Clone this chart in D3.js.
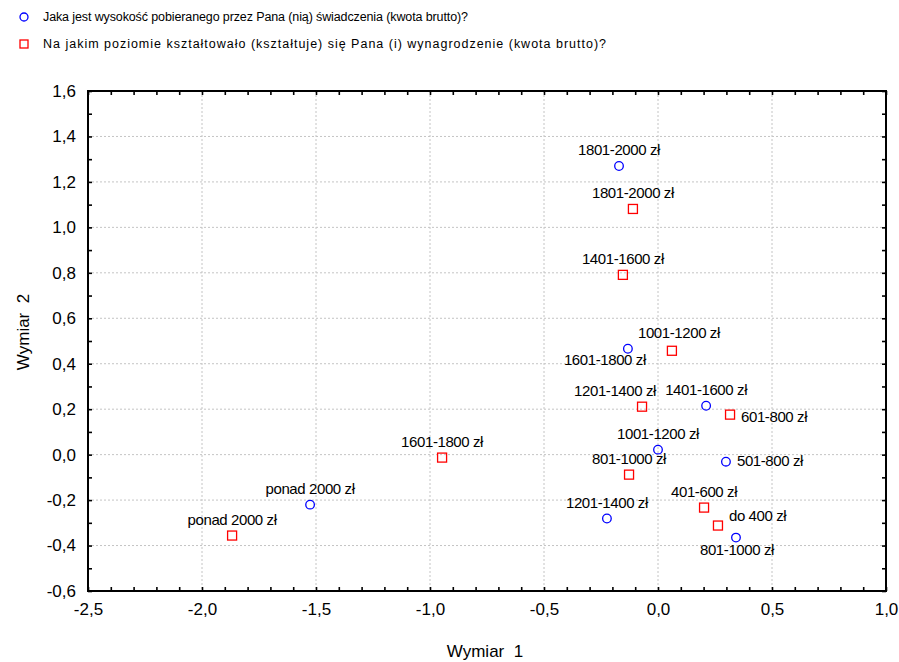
<!DOCTYPE html>
<html>
<head>
<meta charset="utf-8">
<script src="https://cdn.jsdelivr.net/npm/d3@7"></script>
<style>
  body { margin: 0; background: #fff; }
  text { font-family: "Liberation Sans", Arial, sans-serif; fill: #000; }
</style>
</head>
<body>
<div id="chart"></div>
<script>
// series: benefit amount (circles) and salary (squares)
const benefitLabels = ['1801-2000 zł', '1601-1800 zł', '1401-1600 zł', '1001-1200 zł', '501-800 zł', '1201-1400 zł', '801-1000 zł', 'ponad 2000 zł'];
const benefitX = [-0.171, -0.132, 0.211, 0.000, 0.298, -0.224, 0.342, -1.526];
const benefitY = [1.270, 0.466, 0.215, 0.022, -0.031, -0.281, -0.365, -0.220];

const salaryLabels = ['1801-2000 zł', '1401-1600 zł', '1001-1200 zł', '1201-1400 zł', '601-800 zł', '1601-1800 zł', '801-1000 zł', '401-600 zł', 'do 400 zł', 'ponad 2000 zł'];
const salaryX = [-0.110, -0.154, 0.061, -0.070, 0.316, -0.947, -0.127, 0.202, 0.263, -1.868];
const salaryY = [1.081, 0.791, 0.457, 0.211, 0.176, -0.013, -0.088, -0.233, -0.312, -0.356];

const xTicks = [-2.5, -2.0, -1.5, -1.0, -0.5, 0.0, 0.5, 1.0];
const yTicks = [-0.6, -0.4, -0.2, 0.0, 0.2, 0.4, 0.6, 0.8, 1.0, 1.2, 1.4, 1.6];

const legendTexts = [
    'Jaka jest wysokość pobieranego przez Pana (nią) świadczenia (kwota brutto)?',
    'Na jakim poziomie kształtowało (kształtuje) się Pana (i) wynagrodzenie (kwota brutto)?'
];
const legendWidths = [425, 563];

// where each label sits relative to its point
const benefitPlace = ['top', 'bottomLeft', 'top', 'top', 'right', 'top', 'bottom', 'top'];
const salaryPlace = ['top', 'top', 'topRight', 'topLeft', 'rightLow', 'top', 'top', 'top', 'rightHigh', 'top'];
const placement = {
    top: [0, -11, 'middle'],
    topLeft: [-27, -11, 'middle'],
    topRight: [7, -13, 'middle'],
    bottom: [1, 17, 'middle'],
    bottomLeft: [-23, 16, 'middle'],
    right: [11, 4, 'start'],
    rightLow: [11, 7, 'start'],
    rightHigh: [11, -5, 'start']
};

const W = 899, H = 662;
const margin = { top: 91, right: 13, bottom: 71, left: 88 };
const width = W - margin.left - margin.right;
const height = H - margin.top - margin.bottom;

const svg = d3.select('#chart')
    .append('svg')
    .attr('width', W)
    .attr('height', H);

svg.append('rect').attr('width', W).attr('height', H).attr('fill', '#fff');

const g = svg.append('g')
    .attr('transform', 'translate(' + margin.left + ',' + margin.top + ')');

const x = d3.scaleLinear().domain([-2.5, 1.0]).range([0, width]);
const y = d3.scaleLinear().domain([-0.6, 1.6]).range([height, 0]);

const fmt = d => (Math.round(d * 10) / 10).toFixed(1).replace('.', ',').replace('-0,0', '0,0');

// dotted grid
g.append('g')
    .selectAll('line')
    .data(xTicks.slice(1, -1))
    .join('line')
    .attr('x1', d => x(d)).attr('x2', d => x(d))
    .attr('y1', 0).attr('y2', height)
    .attr('stroke', '#c4c4c4')
    .attr('stroke-width', 1)
    .attr('stroke-dasharray', '2,2');

g.append('g')
    .selectAll('line')
    .data(yTicks.slice(1, -1))
    .join('line')
    .attr('y1', d => y(d)).attr('y2', d => y(d))
    .attr('x1', 0).attr('x2', width)
    .attr('stroke', '#c4c4c4')
    .attr('stroke-width', 1)
    .attr('stroke-dasharray', '2,2');

// minor ticks every 0.1, pointing inward on all four sides
const xMinor = d3.range(-25, 11).map(d => d / 10);
const yMinor = d3.range(-6, 17).map(d => d / 10);

function styleTicks(sel) {
    sel.select('.domain').remove();
    sel.selectAll('line').attr('stroke', '#000').attr('stroke-width', 1.6);
}

g.append('g')
    .attr('transform', 'translate(0,' + height + ')')
    .call(d3.axisBottom(x).tickValues(xMinor).tickSizeInner(-4).tickSizeOuter(0).tickFormat(''))
    .call(styleTicks);
g.append('g')
    .call(d3.axisTop(x).tickValues(xMinor).tickSizeInner(-4).tickSizeOuter(0).tickFormat(''))
    .call(styleTicks);
g.append('g')
    .call(d3.axisLeft(y).tickValues(yMinor).tickSizeInner(-4).tickSizeOuter(0).tickFormat(''))
    .call(styleTicks);
g.append('g')
    .attr('transform', 'translate(' + width + ',0)')
    .call(d3.axisRight(y).tickValues(yMinor).tickSizeInner(-4).tickSizeOuter(0).tickFormat(''))
    .call(styleTicks);

// tick labels
const xAxis = g.append('g')
    .attr('transform', 'translate(0,' + height + ')')
    .call(d3.axisBottom(x).tickValues(xTicks).tickSize(0).tickPadding(12).tickFormat(fmt));
xAxis.select('.domain').remove();
xAxis.selectAll('text').style('font-size', '17px').attr('fill', '#000');

const yAxis = g.append('g')
    .call(d3.axisLeft(y).tickValues(yTicks).tickSize(0).tickPadding(12).tickFormat(fmt));
yAxis.select('.domain').remove();
yAxis.selectAll('text').style('font-size', '17px').attr('fill', '#000');

// frame
g.append('rect')
    .attr('width', width)
    .attr('height', height)
    .attr('fill', 'none')
    .attr('stroke', '#000')
    .attr('stroke-width', 2);

// axis titles
svg.append('text')
    .attr('x', margin.left + width / 2 - 2)
    .attr('y', 657)
    .attr('text-anchor', 'middle')
    .style('font-size', '17px')
    .style('white-space', 'pre')
    .text('Wymiar  1');

svg.append('text')
    .attr('transform', 'translate(29,' + (margin.top + height / 2 - 9) + ') rotate(-90)')
    .attr('text-anchor', 'middle')
    .style('font-size', '17px')
    .style('white-space', 'pre')
    .text('Wymiar  2');

// points
const benefit = benefitLabels.map((d, i) => ({ label: d, x: benefitX[i], y: benefitY[i], place: benefitPlace[i] }));
const salary = salaryLabels.map((d, i) => ({ label: d, x: salaryX[i], y: salaryY[i], place: salaryPlace[i] }));

g.selectAll('.circ')
    .data(benefit)
    .join('circle')
    .attr('class', 'circ')
    .attr('cx', d => x(d.x))
    .attr('cy', d => y(d.y))
    .attr('r', 4.3)
    .attr('fill', 'none')
    .attr('stroke', '#0000ff')
    .attr('stroke-width', 1.3);

g.selectAll('.sq')
    .data(salary)
    .join('rect')
    .attr('class', 'sq')
    .attr('x', d => x(d.x) - 4.5)
    .attr('y', d => y(d.y) - 4.5)
    .attr('width', 9)
    .attr('height', 9)
    .attr('fill', 'none')
    .attr('stroke', '#ff0000')
    .attr('stroke-width', 1.3);

g.selectAll('.lbl')
    .data(benefit.concat(salary))
    .join('text')
    .attr('class', 'lbl')
    .attr('x', d => x(d.x) + placement[d.place][0])
    .attr('y', d => y(d.y) + placement[d.place][1])
    .attr('text-anchor', d => placement[d.place][2])
    .style('font-size', '15px')
    .style('letter-spacing', '-0.4px')
    .text(d => d.label);

// legend
const legend = svg.append('g');
legend.append('circle')
    .attr('cx', 24).attr('cy', 17).attr('r', 4)
    .attr('fill', 'none').attr('stroke', '#0000ff').attr('stroke-width', 1.3);
legend.append('rect')
    .attr('x', 20).attr('y', 40).attr('width', 8).attr('height', 8)
    .attr('fill', 'none').attr('stroke', '#ff0000').attr('stroke-width', 1.3);
legend.selectAll('.ltxt')
    .data(legendTexts)
    .join('text')
    .attr('class', 'ltxt')
    .attr('x', 43)
    .attr('y', (d, i) => 21 + i * 27)
    .attr('textLength', (d, i) => legendWidths[i])
    .attr('lengthAdjust', 'spacing')
    .style('font-size', '12.5px')
    .text(d => d);
</script>
</body>
</html>
